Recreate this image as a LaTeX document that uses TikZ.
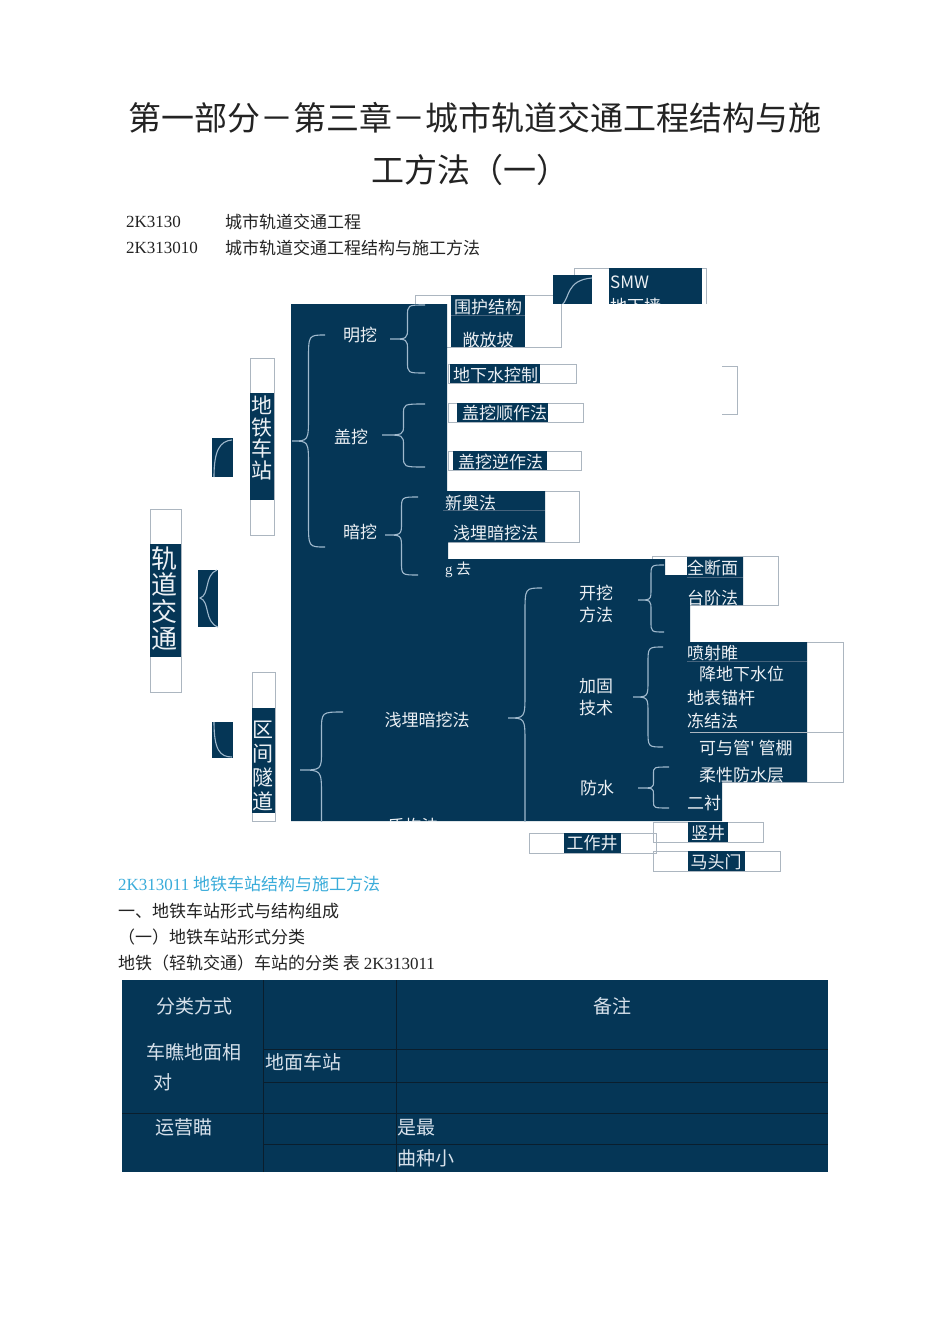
\documentclass[tikz,border=0pt]{standalone}
\usepackage{fontspec}
\setmainfont{Liberation Serif}
\newfontfamily\cjk{Noto Sans CJK SC}
\definecolor{navy}{RGB}{5,54,86}
\definecolor{bracecol}{RGB}{160,185,205}
\definecolor{edgegrey}{RGB}{172,182,192}
\definecolor{paletext}{RGB}{236,240,244}
\definecolor{celltext}{RGB}{215,225,235}
\definecolor{headcyan}{RGB}{58,172,218}
\definecolor{inktext}{RGB}{35,35,35}
\definecolor{seam}{RGB}{70,100,125}
\definecolor{gridline}{RGB}{10,30,45}
\tikzset{
  titletext/.style={text=inktext, inner sep=0pt, font=\cjk\fontsize{33}{33}\selectfont},
  bodytext/.style={text=inktext, inner sep=0pt, anchor=west, font=\cjk\fontsize{17}{17}\selectfont},
  codetext/.style={text=inktext, inner sep=0pt, anchor=west, font=\fontsize{17}{17}\selectfont},
  lbl/.style={text=paletext, inner sep=0pt, font=\cjk\fontsize{17}{22}\selectfont, align=center},
  listlbl/.style={lbl, anchor=west},
  vlbl/.style={text=paletext, inner sep=0pt, align=center},
  tcell/.style={text=celltext, inner sep=0pt, font=\cjk\fontsize{19}{19}\selectfont},
  greybox/.style={draw=edgegrey, line width=1pt},
  bracestyle/.style={draw=bracecol, line width=1.1pt},
}
% curly brace: end x, top y, tip x, tip y, bottom y
\newcommand\mbrace[5]{%
  \pgfmathsetmacro\bxs{(#1+#3)/2}%
  \pgfmathsetmacro\bra{min(25,(#4-#2)/3)}%
  \pgfmathsetmacro\brb{min(25,(#5-#4)/3)}%
  \draw[bracestyle] (#1,#2) .. controls (\bxs,#2) .. (\bxs,#2+\bra)
    -- (\bxs,#4-\bra) .. controls (\bxs,#4) .. (#3,#4)
    .. controls (\bxs,#4) .. (\bxs,#4+\brb)
    -- (\bxs,#5-\brb) .. controls (\bxs,#5) .. (#1,#5);
}
\begin{document}
\begin{tikzpicture}[x=1pt,y=-1pt]
  \useasboundingbox (0,0) rectangle (950,1344);
  \fill[white] (0,0) rectangle (950,1344);

  % heading lines
  \node[titletext] (title1) at (475,118) {第一部分－第三章－城市轨道交通工程结构与施};
  \node[titletext] (title2) at (470,170) {工方法（一）};
  \node[codetext] (code1) at (126,222) {2K3130};
  \node[bodytext] (name1) at (225,222) {城市轨道交通工程};
  \node[codetext] (code2) at (126,248) {2K313010};
  \node[bodytext] (name2) at (225,248) {城市轨道交通工程结构与施工方法};

  % grey outlines under the dark block
  \draw[greybox] (415,295) rectangle (561,347);
  \draw[greybox] (448,364) rectangle (576,383);
  \draw[greybox] (448,403) rectangle (583,422);
  \draw[greybox] (448,451) rectangle (581,470);
  \draw[greybox] (448,491) rectangle (579,542);
  \draw[greybox] (652,556) rectangle (778,605);
  \draw[greybox] (687,642) rectangle (843,782);
  \draw[greybox] (653,822) rectangle (763,842);
  \draw[greybox] (529,833) rectangle (656,853);
  \draw[greybox] (653,851) rectangle (780,871);
  \draw[greybox] (250,358) rectangle (274,535);
  \draw[greybox] (150,509) rectangle (181,692);
  \draw[greybox] (252,672) rectangle (275,821);
  \draw[greybox] (722,366) -| (737,414) -- (722,414);

  % main dark block
  \fill[navy] (291,304) -- (447,304) -- (447,491) -- (545,491) -- (545,542)
    -- (448,542) -- (448,559) -- (665,559) -- (665,575) -- (687,575)
    -- (687,557) -- (743,557) -- (743,605) -- (690,605) -- (690,642)
    -- (807,642) -- (807,782) -- (722,782) -- (722,821) -- (291,821) -- cycle;
  \fill[navy] (451,295) rectangle (525,347);
  \fill[navy] (450,364) rectangle (540,383);
  \fill[navy] (457,403) rectangle (548,422);
  \fill[navy] (453,451) rectangle (547,470);
  \fill[navy] (564,833) rectangle (621,853);
  \fill[navy] (688,822) rectangle (728,842);
  \fill[navy] (688,851) rectangle (745,871);
  \fill[navy] (250,393) rectangle (274,500);
  \fill[navy] (150,544) rectangle (181,657);
  \fill[navy] (252,708) rectangle (275,813);
  \draw[seam, line width=0.8pt] (451,315) -- (525,315);
  \draw[seam, line width=0.8pt] (443,510) -- (545,510);
  \draw[seam, line width=0.8pt] (687,577) -- (743,577);
  \draw[seam, line width=0.8pt] (687,661) -- (807,661);
  \draw[greybox] (690,732) -- (843,732);

  % small brace pieces on the left
  \fill[navy] (212,438) rectangle (233,477);
  \draw[bracestyle] (214,477) .. controls (214,450) and (220,441) .. (232,440);
  \fill[navy] (198,570) rectangle (218,627);
  \draw[bracestyle] (217,570) .. controls (204,575) and (210,595) .. (200,598)
    .. controls (210,601) and (204,622) .. (218,627);
  \fill[navy] (212,722) rectangle (233,758);
  \draw[bracestyle] (214,722) .. controls (214,750) and (220,757) .. (232,757);

  % cut-off corner with SMW
  \begin{scope}
    \clip (530,255) rectangle (720,303);
    \draw[greybox] (574,268) rectangle (706,330);
    \fill[navy] (609,268) rectangle (702,330);
    \fill[navy] (553,275) rectangle (592,330);
    \draw[bracestyle] (562,305) .. controls (570,298) and (566,280) .. (592,278);
    \node[listlbl] (smw) at (610,282) {SMW};
    \node[listlbl] (dxq) at (610,306) {地下墙};
  \end{scope}

  % braces
  \mbrace{325}{335}{292}{441}{547}
  \mbrace{425}{305}{390}{339}{373}
  \mbrace{425}{404}{382}{435}{467}
  \mbrace{418}{497}{385}{535}{575}
  \mbrace{664}{565}{638}{600}{632}
  \mbrace{663}{647}{633}{697}{747}
  \mbrace{669}{767}{638}{788}{808}
  \begin{scope}
    \clip (291,304) rectangle (722,821);
    \mbrace{343}{712}{300}{770}{850}
    \mbrace{542}{588}{508}{718}{848}
    \node[lbl] (dungou) at (413,826) {盾构法};
  \end{scope}

  % labels in the dark block
  \node[lbl] (mingwa) at (360,335) {明挖};
  \node[lbl] (gaiwa) at (351,437) {盖挖};
  \node[lbl] (anwa) at (360,532) {暗挖};
  \node[lbl] (weihu) at (488,307) {围护结构};
  \node[lbl] (fangpo) at (488,340) {敞放坡};
  \node[listlbl] (dixiashui) at (453,375) {地下水控制};
  \node[listlbl] (shunzuo) at (462,413) {盖挖顺作法};
  \node[listlbl] (nizuo) at (458,462) {盖挖逆作法};
  \node[listlbl] (xinao) at (445,503) {新奥法};
  \node[listlbl] (qianmai) at (453,533) {浅埋暗挖法};
  \node[listlbl, font=\cjk\fontsize{15}{15}\selectfont] (gqu) at (445,570) {{\rmfamily g} 去};
  \node[lbl] (qianmaifa) at (427,720) {浅埋暗挖法};
  \node[lbl] (kaiwa) at (596,604) {开挖\\方法};
  \node[lbl] (jiagu) at (596,697) {加固\\技术};
  \node[lbl] (fangshui) at (597,788) {防水};
  \node[listlbl] (quanduan) at (687,568) {全断面};
  \node[listlbl] (taijie) at (687,598) {台阶法};
  \node[listlbl] (penshe) at (687,653) {喷射睢};
  \node[listlbl] (jiangshui) at (699,674) {降地下水位};
  \node[listlbl] (maogan) at (687,698) {地表锚杆};
  \node[listlbl] (dongjie) at (687,721) {冻结法};
  \node[listlbl] (guanpeng) at (699,748) {可与管'\ 管棚};
  \node[listlbl] (rouxing) at (699,775) {柔性防水层};
  \node[listlbl] (erchen) at (687,803) {二衬};
  \node[lbl] (gongzuo) at (592,843) {工作井};
  \node[lbl] (shujing) at (708,833) {竖井};
  \node[lbl] (matou) at (716,862) {马头门};
  \node[vlbl, font=\cjk\fontsize{21}{21.7}\selectfont] (station) at (262,438) {地\\铁\\车\\站};
  \node[vlbl, font=\cjk\fontsize{26}{26.7}\selectfont] (transit) at (164,598) {轨\\道\\交\\通};
  \node[vlbl, font=\cjk\fontsize{21}{24}\selectfont] (tunnel) at (263,766) {区\\间\\隧\\道};

  % text under the diagram
  \node[bodytext, text=headcyan] (sec) at (118,884) {{\rmfamily 2K313011} 地铁车站结构与施工方法};
  \node[bodytext] (part1) at (118,911) {一、地铁车站形式与结构组成};
  \node[bodytext] (part2) at (118,937) {（一）地铁车站形式分类};
  \node[bodytext] (caption) at (118,963) {地铁（轻轨交通）车站的分类\ 表 {\rmfamily 2K313011}};

  % table
  \fill[navy] (122,980) rectangle (828,1172);
  \draw[gridline, line width=0.8pt] (263,980) -- (263,1172);
  \draw[gridline, line width=0.8pt] (396,980) -- (396,1172);
  \foreach \ry in {1049,1082,1144}
    \draw[gridline, line width=0.8pt] (263,\ry) -- (828,\ry);
  \draw[gridline, line width=0.8pt] (122,1113) -- (828,1113);
  \node[tcell] (c11) at (194,1006) {分类方式};
  \node[tcell] (c13) at (612,1006) {备注};
  \node[tcell] (c21) at (194,1052) {车瞧地面相};
  \node[tcell] (c21b) at (163,1082) {对};
  \node[tcell, anchor=west] (c22) at (265,1062) {地面车站};
  \node[tcell] (c41) at (184,1127) {运营瞄};
  \node[tcell, anchor=west] (c43) at (397,1128) {是最};
  \node[tcell, anchor=west] (c53) at (397,1158) {曲种小};
\end{tikzpicture}
\end{document}
